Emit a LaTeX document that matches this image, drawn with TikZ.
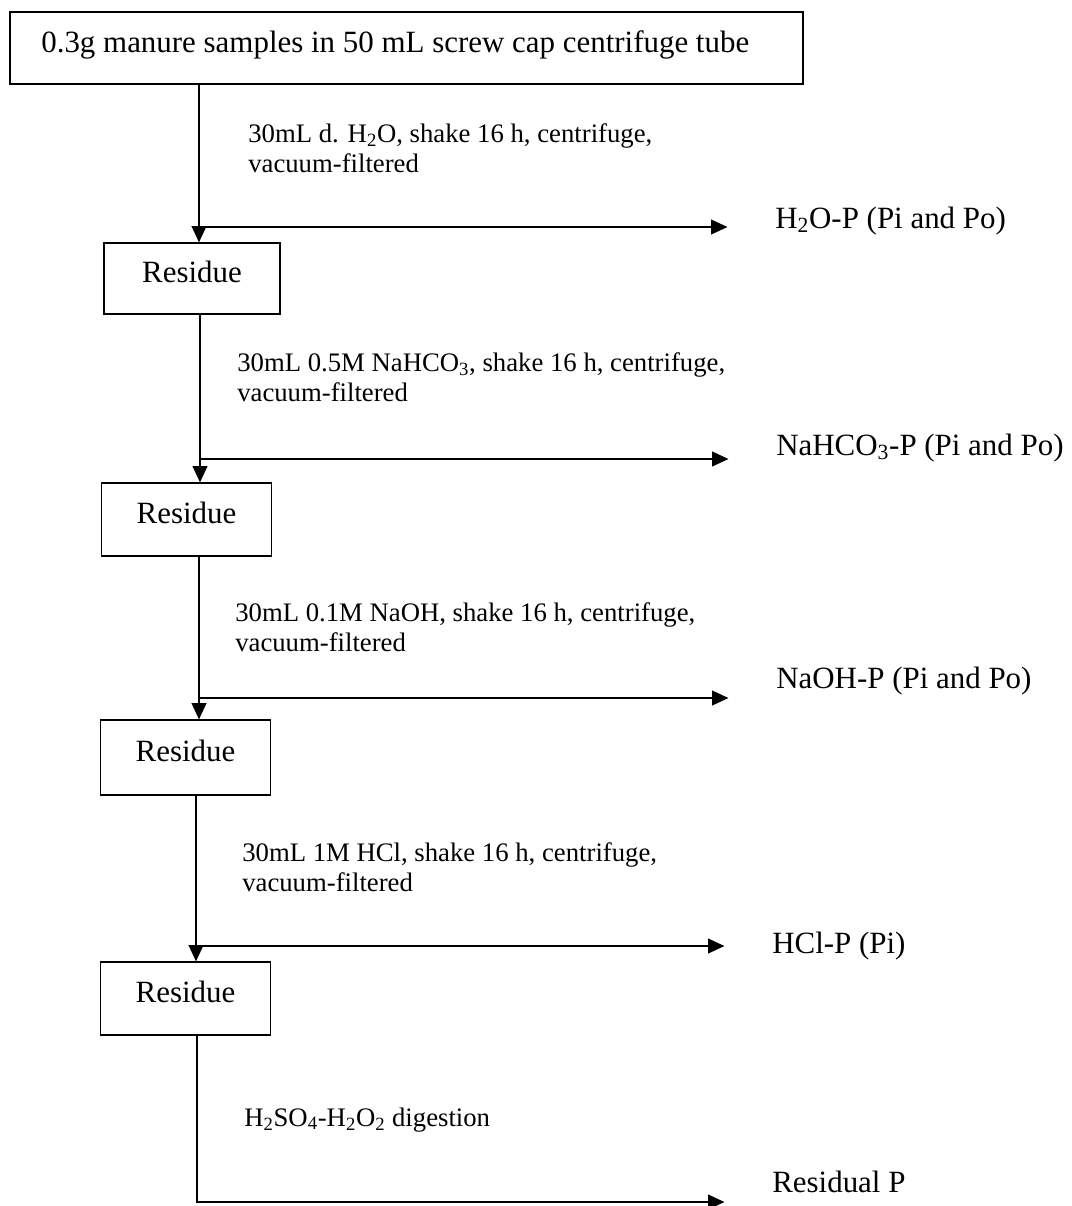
\documentclass[tikz,border=0pt]{standalone}
\usepackage{fontspec}
\setmainfont{Liberation Serif}
\usetikzlibrary{arrows.meta, positioning}

\begin{document}
\begin{tikzpicture}[
  x=0.025cm, y=-0.025cm,
  box/.style={draw, line width=0.9pt, inner sep=0pt, minimum height=1.825cm, text height=15pt, text depth=9pt, font=\fontsize{22}{26}\selectfont},
  residue/.style={box, minimum width=4.25cm},
  steptext/.style={anchor=base west, align=left, inner sep=0pt, font=\fontsize{19}{21.3}\selectfont},
  fraction/.style={anchor=base west, inner sep=0pt, font=\fontsize{22}{26}\selectfont},
  flow/.style={line width=0.9pt, -{Triangle[length=11.5pt, width=10.5pt]}},
  tap/.style={flow, shorten >=1.19cm}
]
  \useasboundingbox (0,0) rectangle (1072,1206);

  \node[box, minimum width=19.825cm, minimum height=1.8cm] (sample) at (406.5,48) {0.3g manure samples in 50 mL screw cap centrifuge tube\hspace*{16pt}};

  \node[residue, minimum width=4.4cm, minimum height=1.775cm] (res1) at (192,278.5) {Residue};
  \node[residue] (res2) at (186.5,519.5) {Residue};
  \node[residue, minimum height=1.875cm] (res3) at (185.5,757.5) {Residue};
  \node[residue] (res4) at (185.5,998.5) {Residue};

  % extraction steps (base = last line)
  \node[steptext] (step1) at (248,172) {30mL d. H\textsubscript{2}O, shake 16 h, centrifuge,\\vacuum-filtered};
  \node[steptext] (step2) at (237,401) {30mL 0.5M NaHCO\textsubscript{3}, shake 16 h, centrifuge,\\vacuum-filtered};
  \node[steptext] (step3) at (235,651) {30mL 0.1M NaOH, shake 16 h, centrifuge,\\vacuum-filtered};
  \node[steptext] (step4) at (242,891) {30mL 1M HCl, shake 16 h, centrifuge,\\vacuum-filtered};
  \node[steptext] (step5) at (244,1126) {H\textsubscript{2}SO\textsubscript{4}-H\textsubscript{2}O\textsubscript{2} digestion};

  % fractions
  \node[fraction] (frac1) at (775,228) {H\textsubscript{2}O-P (Pi and Po)};
  \node[fraction] (frac2) at (776,455) {NaHCO\textsubscript{3}-P (Pi and Po)};
  \node[fraction] (frac3) at (776,688) {NaOH-P (Pi and Po)};
  \node[fraction] (frac4) at (772,953) {HCl-P (Pi)};
  \node[fraction] (frac5) at (772,1192) {Residual P};

  \coordinate (j1) at (199,227);
  \coordinate (j2) at (200,459);
  \coordinate (j3) at (199,698);
  \coordinate (j4) at (196,946);
  \coordinate (j5) at (197,1202);

  \draw[flow] (sample.south -| j1) -- (res1.north -| j1);
  \draw[flow] (res1.south -| j2) -- (res2.north -| j2);
  \draw[flow] (res2.south -| j3) -- (res3.north -| j3);
  \draw[flow] (res3.south -| j4) -- (res4.north -| j4);

  \draw[tap] (j1) -- (j1 -| frac1.west);
  \draw[tap] (j2) -- (j2 -| frac2.west);
  \draw[tap] (j3) -- (j3 -| frac3.west);
  \draw[tap] (j4) -- (j4 -| frac4.west);
  \draw[tap] (res4.south -| j5) -- (j5) -- (j5 -| frac5.west);
\end{tikzpicture}
\end{document}
